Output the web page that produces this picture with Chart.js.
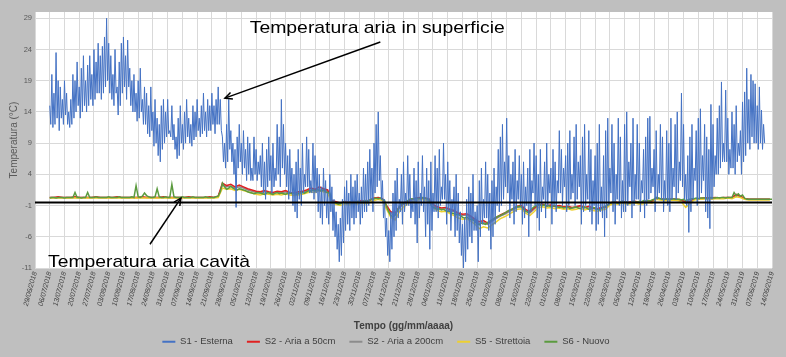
<!DOCTYPE html>
<html>
<head>
<meta charset="utf-8">
<script src="https://cdn.jsdelivr.net/npm/chart.js@4.4.1/dist/chart.umd.min.js"></script>
<style>
  html, body { margin: 0; padding: 0; background: #bfbfbf; }
  canvas { display: block; }
</style>
</head>
<body>
<canvas id="c" width="786" height="357"></canvas>
<script>
// ---- Data -------------------------------------------------------------
// Weekly axis labels (one every 7 days, starting 29/06/2018 = day 0)
const dateLabels = ['29/06/2018','06/07/2018','13/07/2018','20/07/2018','27/07/2018','03/08/2018','10/08/2018','17/08/2018','24/08/2018','31/08/2018','07/09/2018','14/09/2018','21/09/2018','28/09/2018','05/10/2018','12/10/2018','19/10/2018','26/10/2018','02/11/2018','09/11/2018','16/11/2018','23/11/2018','30/11/2018','07/12/2018','14/12/2018','21/12/2018','28/12/2018','04/01/2019','11/01/2019','18/01/2019','25/01/2019','01/02/2019','08/02/2019','15/02/2019','22/02/2019','01/03/2019','08/03/2019','15/03/2019','22/03/2019','29/03/2019','05/04/2019','12/04/2019','19/04/2019','26/04/2019','03/05/2019','10/05/2019','17/05/2019','24/05/2019','31/05/2019','07/06/2019','14/06/2019'];
const daysPerLabel = 7;
const yTicks = [-11, -6, -1, 4, 9, 14, 19, 24, 29];
const yMin = -11, yMax = 30;

const seriesNames = ['S1 - Esterna', 'S2 - Aria a 50cm', 'S2 - Aria a 200cm', 'S5 - Strettoia', 'S6 - Nuovo'];

// S1 - Esterna: readings every half day starting on day 7 (day max / night min)
const s1Start = 7, s1Step = 0.5;
const s1 = [
15,12, 20,11.5, 17,12, 23.5,13, 19,11,
18,13, 16,12, 19,13.5, 17,12, 14,11.5,
16,12, 20,13, 19,14, 22,15, 18,13,
21,14, 23,15, 19,14, 21.5,15, 23,16,
20,15, 24,16, 22,17, 25,17, 23,16,
24.5,17, 26,18, 29,19, 25,17, 23,16,
20,15, 24,17, 18,13.5, 22,15, 25,17,
26,18, 23,16, 25.5,18, 21,15, 19,14,
20,14, 17,12.5, 19,13, 21,14, 16,12,
18,12, 17,10.5, 15,10, 18,11, 14,8.5,
16,9, 13,7, 12,6, 15,8, 16,9,
14,10, 16,10.5, 11,10, 15,9.5, 12,8,
10,6.5, 13,7, 15,9, 12,8, 14,9,
16,10, 13,9, 12,8.5, 15,9.5, 14,10,
16,11, 13,10, 15,10.5, 17,11, 14,10,
16,11, 15,11, 17,12, 15,10.5, 16,12,
18,12, 16,11, 10,6, 9,5, 12,6,
16,8, 11,6, 9,4, 8,-1.3, 10,5,
12,6, 9,4, 11,5, 8,3, 10,4,
9,3, 5,3, 10,4, 8,3, 6,4,
7,2, 9,1, 6,0, 8,2, 10,3,
7,1, 9,2, 5,3, 12,4, 10,2,
16,5, 12,4, 9,2, 7,0, 8,1,
5,-1, 4,-2, 6,-3, 8,0, 5,-1,
9,1, 4,2, 10,2, 8,1, 3,1,
9,0, 7,1, 5,-2, 4,-3, 2,-4,
5,-1, 3,-3, 1,-4, 4,-2, 2,-5,
0,-6, -2,-8, -4,-10, -3,-9, 0,-7,
2,-5, 3,-4, 1,-5, 4,-3, 2,-4,
3,-3, 4,-2, 1,-4, 2,-3, 5,-2,
4,-2, 6,-1, 8,0, 5,-2, 9,1,
12,2, 14,3, 7,0, 3,-3, 0,-6,
-3,-9, -5,-10, -2,-8, 1,-6, 3,-5,
5,-3, 0,-2, 4,-4, 6,-2, 1,-1,
7,-1, 4,-3, 0,-2, 5,-4, 3,-7,
6,-3, 1,-1, 7,-2, 2,-6, 5,-4,
3,-8, 6,-5, 1,-2, 7,-2, 5,-3,
8,-1, 2,0, 9,0, 4,-4, 6,-2,
3,-5, 0,-2, 2,-6, 4,-5, 1,-7,
-2,-9, -4,-11, -3,-10, 0,-8, 2,-6,
1,-7, 4,-5, -2,-5, -1,-10, 3,-6,
5,-4, 0,-3, 6,-3, 4,-5, 1,-8,
3,-6, 5,-4, 2,-1, 8,-2, 10,-1,
12,0, 6,2, 13,1, 7,-3, 4,0,
6,-4, 8,-2, 3,0, 7,-1, 4,-4,
6,-3, 2,-1, 5,-6, 8,-2, 3,1,
9,-1, 7,-3, 4,-5, 8,-2, 2,0,
6,-3, 9,-1, 4,1, 5,-4, 8,-1,
6,-2, 3,1, 11,1, 8,-1, 5,2,
7,-2, 9,-1, 11,0, 4,1, 10,-1,
12,0, 6,2, 7,-4, 10,-2, 12,-1,
4,0, 11,-2, 8,-4, 3,-1, 7,-5,
9,-4, 12,-2, 2,-3, 7,-6, 11,-3,
13,-1, 5,1, 12,-2, 9,-4, 4,0,
13,-1, 10,-3, 3,-2, 12,-2, 14,-1,
6,2, 9,-3, 13,-1, 4,0, 12,0,
9,-2, 3,1, 8,-3, 10,-1, 13,0,
13.3,1, 5,2, 8,-2, 11,0, 4,1,
12,0, 10,-2, 3,0, 11,-1, 9,-2,
13,0, 5,2, 12,0, 14,1, 6,3,
17,2, 12,0, 4,-1, 7,-5.3, 10,-2,
12,0, 5,3, 11,-1, 13,0, 14.5,1,
7,3, 12,-2, 10,-3, 8,-4.7, 15.2,0,
12,2, 7,4, 13,4, 15,5, 18.8,6,
9,6, 17.5,6, 13,4, 8,5, 14,5,
12,4, 15,6, 9,7, 11,4, 15.6,6,
17.2,7, 21,9, 16,8, 20,10, 19,9,
18.5,9, 15,8, 18,9, 14.3,8, 12,9
];

// Cave sensors S2 (50cm, 200cm) and S5: one reading every 2 days from day 7
const caveStart = 7, caveStep = 2;
const s2a50 = [
0.3,0.3,0.4,0.3,0.3,0.3,0.4,0.3,0.3,0.3, 0.3,0.4,0.3,0.3,0.3,0.3,0.4,0.3,0.3,0.3, 0.3,0.3,0.4,0.3,0.3,0.3,0.3,0.4,0.3,0.3, 0.3,0.3,0.3,0.4,0.3,0.3,0.3,0.3,0.4,0.3, 0.5,
2.6,2.2,2.4,2.0,2.3,2.0,1.7,1.5,1.3,1.2, 1.4,1.2,1.1,1.3,1.2,1.4,1.1,1.0,1.2,1.3, 1.5,1.8,1.6,2.0,1.7,1.5,
-0.2,-0.4,-0.6,-0.3,-0.5,-0.3,-0.4,-0.2,-0.3,-0.1,0.2,0.3,0.1,
-1.0,-2.0,-2.2,-1.2,-0.6,-0.3,0.0,0.2,0.3,0.2,0.1,
-0.8,-1.2,-1.4,-1.3,-1.6,-1.8,-2.2,-2.4,-2.3,-2.7,-3.2,-3.6,-3.4,-3.8,-3.3,
-2.9,-2.5,-2.2,-1.8,-1.5,-1.1,-1.0,-1.6,-2.0,-1.4,-0.9,
-0.8,-1.0,-0.9,-1.1,-1.0,-1.2,-1.1,-1.3,-1.2,-1.0,-1.3,-1.1,-1.4,-1.5,-1.3,-1.2,
-0.6,-0.4,-0.5,-0.3,-0.5,-0.4,-0.3,-0.5,-0.4,-0.2,-0.3,
0.2,0.1,0.0,0.0,0.1,0.0,-0.1,-0.4,-0.3,
0.1,0.1,0.2,0.2,0.2,0.3,0.2,0.3,0.3,0.3,0.8,0.5,0.1,
0,0,0,0,0,0
];
const s2a200 = [
0.3,0.3,0.3,0.3,0.3,0.3,0.3,0.3,0.3,0.3, 0.3,0.3,0.3,0.3,0.3,0.3,0.3,0.3,0.3,0.3, 0.3,0.3,0.3,0.3,0.3,0.3,0.3,0.3,0.3,0.3, 0.3,0.3,0.3,0.3,0.3,0.3,0.3,0.3,0.3,0.3, 0.4,
2.3,2.0,2.1,1.8,2.0,1.8,1.5,1.3,1.1,1.0, 1.2,1.0,0.9,1.1,1.0,1.2,0.9,0.9,1.0,1.1, 1.3,1.5,1.4,1.7,1.5,1.3,
-0.3,-0.5,-0.7,-0.4,-0.6,-0.4,-0.5,-0.3,-0.4,-0.2,0.1,0.2,0.0,
-1.2,-2.3,-2.5,-1.4,-0.8,-0.4,-0.1,0.1,0.2,0.1,0.0,
-1.0,-1.4,-1.6,-1.5,-1.8,-2.0,-2.4,-2.6,-2.5,-2.9,-3.4,-3.9,-3.7,-4.0,-3.5,
-3.1,-2.7,-2.4,-2.0,-1.7,-1.3,-1.2,-1.8,-2.2,-1.6,-1.0,
-0.9,-1.1,-1.0,-1.2,-1.1,-1.3,-1.2,-1.4,-1.3,-1.1,-1.4,-1.2,-1.5,-1.6,-1.4,-1.3,
-0.7,-0.5,-0.6,-0.4,-0.6,-0.5,-0.4,-0.6,-0.5,-0.3,-0.4,
0.1,0.0,-0.1,-0.1,0.0,-0.1,-0.2,-0.6,-0.4,
0.0,0.1,0.1,0.2,0.1,0.2,0.2,0.2,0.3,0.2,0.6,0.4,0.1,
0,0,0,0,0,0
];
const s5 = [
0.2,0.2,0.2,0.2,0.2,0.2,0.2,0.2,0.2,0.2, 0.2,0.2,0.2,0.2,0.2,0.2,0.2,0.2,0.2,0.2, 0.2,0.2,0.2,0.2,0.2,0.2,0.2,0.2,0.2,0.2, 0.2,0.2,0.2,0.2,0.2,0.2,0.2,0.2,0.2,0.2, 0.3,
1.8,1.6,1.7,1.4,1.6,1.4,1.2,1.0,0.8,0.7, 0.9,0.8,0.7,0.8,0.7,0.9,0.7,0.6,0.7,0.8, 1.0,1.2,1.1,1.4,1.2,1.0,
-0.6,-0.8,-1.0,-0.7,-0.9,-0.7,-0.8,-0.6,-0.7,-0.5,-0.2,0.0,-0.2,
-1.6,-2.9,-3.3,-2.0,-1.2,-0.7,-0.4,-0.2,0.0,-0.1,-0.2,
-1.3,-1.8,-2.0,-1.9,-2.3,-2.6,-3.0,-3.2,-3.1,-3.5,-4.0,-4.7,-4.4,-4.6,-4.1,
-3.6,-3.1,-2.8,-2.4,-2.0,-1.6,-1.5,-2.2,-2.6,-2.0,-1.3,
-1.2,-1.4,-1.3,-1.5,-1.4,-1.6,-1.5,-1.7,-1.6,-1.4,-1.7,-1.5,-1.8,-1.9,-1.7,-1.6,
-0.9,-0.7,-0.8,-0.6,-0.8,-0.7,-0.6,-0.8,-0.7,-0.5,-0.6,
0.0,-0.1,-0.2,-0.2,-0.1,-0.2,-0.4,-1.3,-0.7,
-0.1,0.0,0.0,0.1,0.0,0.1,0.1,0.1,0.2,0.1,0.4,0.3,0.0,
-0.1,-0.1,-0.1,-0.1,-0.1,-0.1
];

// S6 - Nuovo: daily readings from day 7
const s6Start = 7, s6Step = 1;
const s6 = [
0.2,0.3,0.3,0.2,0.3,0.3,0.3,0.2,0.3,0.3,0.3,0.3,
1.1,
0.3,0.3,0.2,0.3,0.3,
1.1,
0.3,0.3,0.3,0.4,0.3,0.3,0.3,0.3,0.3,0.4,0.3,0.3,0.3,0.3,0.4,0.3,0.3,0.3,0.3,0.3,0.4,0.3,
2.2,
0.4,0.3,0.5,
1.0,0.6,
0.4,0.3,0.3,0.4,
1.7,
0.4,0.3,0.3,0.4,0.3,0.3,
2.4,
0.4,0.3,0.3,0.3,0.4,0.3,0.3,0.3,0.3,0.4,0.3,0.3,0.3,0.3,0.3,0.4,0.3,0.3,0.3,0.3,0.4,0.5,
1.2,2.6,
2.0,1.6,1.8,2.1,1.8,1.6,1.5,1.7,1.6,1.5,1.4,1.2,1.1,1.0,0.9,1.0,1.1,1.0,0.9,0.8,1.0,1.1,0.9,0.8,1.0,1.1,0.9,1.0,0.9,0.8,1.0,1.1,0.9,1.0,0.8,0.9,1.0,1.1,1.0,1.2,1.4,1.3,1.5,1.3,1.6,1.4,1.3,1.5,1.2,1.1,1.0,
-0.4,-0.5,-0.6,-0.8,-0.7,-0.5,-0.4,-0.6,-0.5,-0.4,-0.5,-0.4,-0.3,-0.4,-0.5,-0.3,-0.2,-0.3,-0.1,0.0,0.1,0.2,0.1,0.2,0.0,-0.2,
-1.2,-2.0,-2.6,-2.8,-2.5,-1.8,-1.2,-0.8,-0.6,-0.4,
-0.2,0.0,0.1,0.0,0.2,0.1,0.2,0.3,0.2,0.1,0.0,
-0.9,-1.3,-1.4,-1.6,-1.5,-1.7,-1.6,-1.8,-1.9,-2.0,-2.2,
-2.3,-2.5,-2.4,-2.6,-2.9,-3.0,-2.8,-3.1,-3.2,-3.3,
-3.6,-3.9,-4.1,-3.8,-3.9,-4.0,-3.7,-3.5,-3.3,
-3.1,-2.9,-2.7,-2.6,-2.4,-2.2,-2.0,-1.8,-1.7,-1.5,-1.3,-1.2,
-1.1,-1.2,-1.6,-1.9,-2.1,-1.8,-1.5,-1.2,-1.0,-0.9,-0.9,
-1.0,-0.9,-1.1,-1.0,-1.2,-1.1,-1.0,-1.2,-1.3,-1.2,-1.4,-1.3,-1.2,-1.5,-1.4,-1.3,-1.2,-1.4,-1.5,-1.3,-1.2,-1.4,-1.6,-1.5,-1.3,-1.4,-1.6,-1.7,-1.5,-1.3,-1.1,-0.9,
-0.6,-0.5,-0.4,-0.5,-0.6,-0.4,-0.3,-0.5,-0.4,-0.6,-0.5,-0.3,-0.4,-0.5,-0.3,-0.4,-0.2,-0.3,-0.2,-0.3,-0.1,0.0,
0.3,0.2,0.1,
0.0,0.0,0.1,0.0,0.0,0.1,0.0,0.0,0.0,-0.1,0.0,-0.2,-0.1,0.0,0.1,0.1,0.2,0.1,0.2,0.2,0.2,0.1,0.2,0.3,0.2,0.2,0.3,0.2,0.3,0.3,0.2,0.3,0.3,0.3,
1.1,0.6,0.9,0.5,0.7,0.2,
0.0,0.0,0.0,0.0,0.0,0.0,0.0,0.0,0.0,0.0,0.0,0.0,0.0
];

// Reference level line (°C) spanning the whole period
const refLevel = -0.5;
const refSpan = [0, 350];

// Annotations, anchored in data units: [day, °C]
const notes = [
  { text: 'Temperatura aria in superficie', at: [102, 26.6], width: 255, from: [164, 25.2], to: [90.2, 16.2] },
  { text: 'Temperatura aria cavità', at: [6.2, -10.9], width: 202, from: [54.6, -7.2], to: [69.3, 0.2] }
];

// ---- Build -------------------------------------------------------------
function toPoints(values, start, step) {
  return values.map((v, i) => ({ x: start + i * step, y: v }));
}

const FONT = '"Liberation Sans", Arial, Helvetica, sans-serif';
Chart.defaults.font.family = FONT;

const bgPlugin = {
  id: 'bg',
  beforeDraw(chart) {
    const { ctx, chartArea: a } = chart;
    ctx.save();
    ctx.fillStyle = '#bfbfbf';
    ctx.fillRect(0, 0, chart.width, chart.height);
    ctx.fillStyle = '#ffffff';
    ctx.fillRect(a.left, a.top, a.right - a.left, a.bottom - a.top);
    ctx.restore();
  }
};

const notePlugin = {
  id: 'notes',
  afterDraw(chart) {
    const { ctx, scales: { x, y } } = chart;
    ctx.save();
    notes.forEach(n => {
      ctx.font = 'normal 400 17px ' + FONT;
      ctx.fillStyle = '#000';
      ctx.textBaseline = 'alphabetic';
      ctx.textAlign = 'left';
      const tx = x.getPixelForValue(n.at[0]);
      const ty = y.getPixelForValue(n.at[1]);
      const w = ctx.measureText(n.text).width;
      ctx.save();
      ctx.translate(tx, ty);
      ctx.scale(n.width / w, 1);
      ctx.fillText(n.text, 0, 0);
      ctx.restore();
      const x1 = x.getPixelForValue(n.from[0]), y1 = y.getPixelForValue(n.from[1]);
      const x2 = x.getPixelForValue(n.to[0]), y2 = y.getPixelForValue(n.to[1]);
      ctx.strokeStyle = '#000';
      ctx.lineWidth = 1.5;
      ctx.beginPath();
      ctx.moveTo(x1, y1); ctx.lineTo(x2, y2);
      ctx.stroke();
      const ang = Math.atan2(y2 - y1, x2 - x1);
      const L = 8, spread = 0.45;
      ctx.beginPath();
      ctx.moveTo(x2 - L * Math.cos(ang - spread), y2 - L * Math.sin(ang - spread));
      ctx.lineTo(x2, y2);
      ctx.lineTo(x2 - L * Math.cos(ang + spread), y2 - L * Math.sin(ang + spread));
      ctx.stroke();
    });
    ctx.restore();
  }
};

const common = { pointRadius: 0, pointHoverRadius: 0, tension: 0, fill: false, pointStyle: 'line' };

new Chart(document.getElementById('c'), {
  type: 'line',
  data: {
    datasets: [
      { ...common, label: seriesNames[0], data: toPoints(s1, s1Start, s1Step), borderColor: '#4472c4', backgroundColor: '#4472c4', borderWidth: 1, order: 0 },
      { ...common, label: seriesNames[1], data: toPoints(s2a50, caveStart, caveStep), borderColor: '#e02020', backgroundColor: '#e02020', borderWidth: 1.5, order: 3 },
      { ...common, label: seriesNames[2], data: toPoints(s2a200, caveStart, caveStep), borderColor: '#8c8c8c', backgroundColor: '#8c8c8c', borderWidth: 1.5, order: 4 },
      { ...common, label: seriesNames[3], data: toPoints(s5, caveStart, caveStep), borderColor: '#eed030', backgroundColor: '#eed030', borderWidth: 1.5, order: 2 },
      { ...common, label: seriesNames[4], data: toPoints(s6, s6Start, s6Step), borderColor: '#5b9b3f', backgroundColor: '#5b9b3f', borderWidth: 1.5, order: 1 },
      { ...common, label: '', data: refSpan.map(d => ({ x: d, y: refLevel })), borderColor: '#000', backgroundColor: '#000', borderWidth: 2, order: -1 }
    ]
  },
  options: {
    responsive: false,
    animation: false,
    events: [],
    layout: { padding: { top: 12, right: 14, left: 0, bottom: 8 } },
    scales: {
      x: {
        type: 'linear',
        min: 0,
        max: (dateLabels.length - 1) * daysPerLabel,
        afterBuildTicks: s => { s.ticks = dateLabels.map((_, i) => ({ value: i * daysPerLabel })); },
        afterFit: s => { s.height = 55; },
        grid: { color: '#d9d9d9', drawTicks: false, lineWidth: 1 },
        border: { display: false },
        ticks: {
          autoSkip: false, minRotation: 75, maxRotation: 75, padding: 3,
          font: { size: 7, style: 'italic' }, color: '#404040',
          callback: (v, i) => dateLabels[i]
        },
        title: { display: true, text: 'Tempo (gg/mm/aaaa)', color: '#404040', font: { size: 10, weight: 'bold' }, padding: { top: 0, bottom: -9 } }
      },
      y: {
        min: yMin, max: yMax,
        afterBuildTicks: s => { s.ticks = yTicks.map(v => ({ value: v })); },
        afterFit: s => { s.width = 35; },
        grid: { color: '#d9d9d9', drawTicks: false, lineWidth: 1 },
        border: { display: false },
        ticks: { padding: 3, font: { size: 7.5 }, color: '#595959' },
        title: { display: true, text: 'Temperatura (°C)', color: '#595959', font: { size: 10 }, padding: { top: 8, bottom: 0 } }
      }
    },
    plugins: {
      tooltip: { enabled: false },
      legend: {
        position: 'bottom',
        maxHeight: 26,
        labels: {
          usePointStyle: true, pointStyle: 'line', pointStyleWidth: 13,
          padding: 14, color: '#404040', font: { size: 9.5 },
          sort: (a, b) => a.datasetIndex - b.datasetIndex,
          filter: item => item.text !== '',
          generateLabels: chart => Chart.defaults.plugins.legend.labels.generateLabels(chart).map(it => ({ ...it, lineWidth: 2 }))
        }
      }
    }
  },
  plugins: [bgPlugin, notePlugin]
});
</script>
</body>
</html>
